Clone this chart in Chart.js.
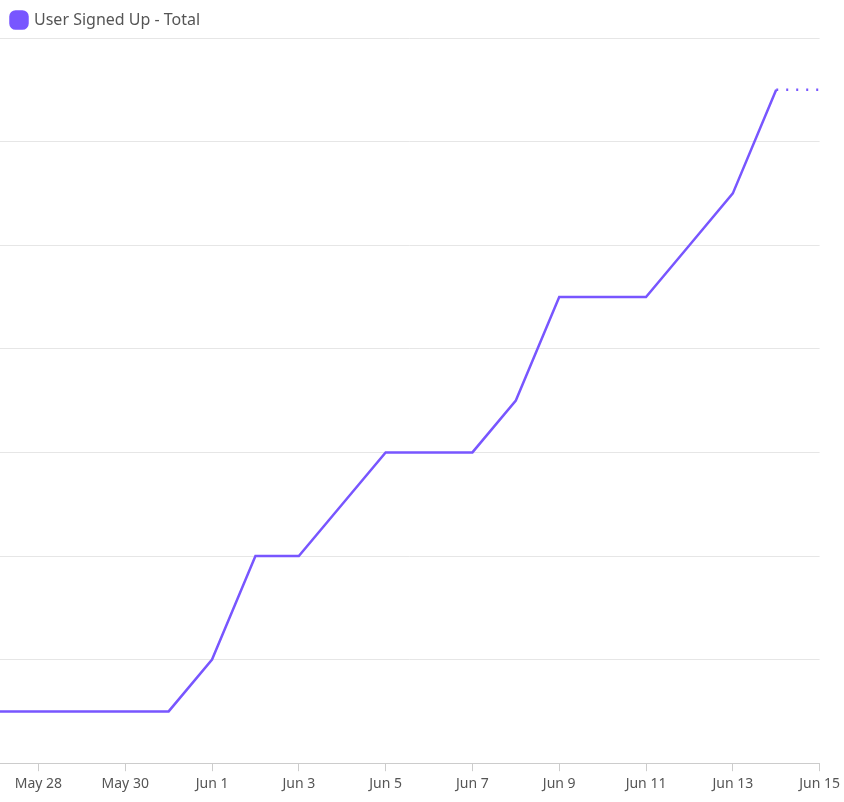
<!DOCTYPE html>
<html><head><meta charset="utf-8">
<script src="https://cdn.jsdelivr.net/npm/chart.js@4"></script>
<style>html,body{margin:0;padding:0;background:#fff}#w{width:844px;height:802px}</style>
</head><body><div id="w"><canvas id="c"></canvas></div>
<script>
const dayLabels = ["May 27","May 28","May 29","May 30","May 31","Jun 1","Jun 2","Jun 3","Jun 4","Jun 5","Jun 6","Jun 7","Jun 8","Jun 9","Jun 10","Jun 11","Jun 12","Jun 13","Jun 14","Jun 15"];
const totals = [1,1,1,1,1,2,4,4,5,6,6,6,7,9,9,9,10,11,13,13];
const tickIdx = [1,3,5,7,9,11,13,15,17,19];
const seriesName = "User Signed Up - Total";
const color = "#7856FF";
const pts = totals.map((v,i)=>({x:i,y:v}));
const last = totals.length-2;
new Chart(document.getElementById('c'),{
  type:'line',
  data:{datasets:[{label:seriesName,data:pts,borderColor:color,backgroundColor:color,borderWidth:2.5,pointRadius:0,tension:0,
    segment:{borderDash:ctx=>ctx.p0DataIndex===last?[2,8]:undefined}}]},
  options:{responsive:true,maintainAspectRatio:false,animation:false,
    layout:{padding:{left:0,right:13,top:0,bottom:6}},
    plugins:{legend:{align:'start',labels:{usePointStyle:true,pointStyle:'rectRounded',boxWidth:14,boxHeight:14,padding:12,color:'#555',font:{family:'Noto Sans',size:16}}},tooltip:{enabled:false}},
    scales:{
      x:{type:'linear',min:0.114,max:19,
        afterBuildTicks:a=>{a.ticks=tickIdx.map(v=>({value:v}));},
        ticks:{callback:v=>dayLabels[v],color:'#555',font:{family:'Noto Sans',size:14},maxRotation:0,autoSkip:false,padding:4},
        grid:{drawOnChartArea:false,tickLength:8,color:'#ccc'},border:{color:'#ccc'}},
      y:{min:0,max:14,ticks:{display:false,stepSize:2},grid:{color:'#e6e6e6',drawTicks:false},border:{display:false}}
    }}
});
</script></body></html>
